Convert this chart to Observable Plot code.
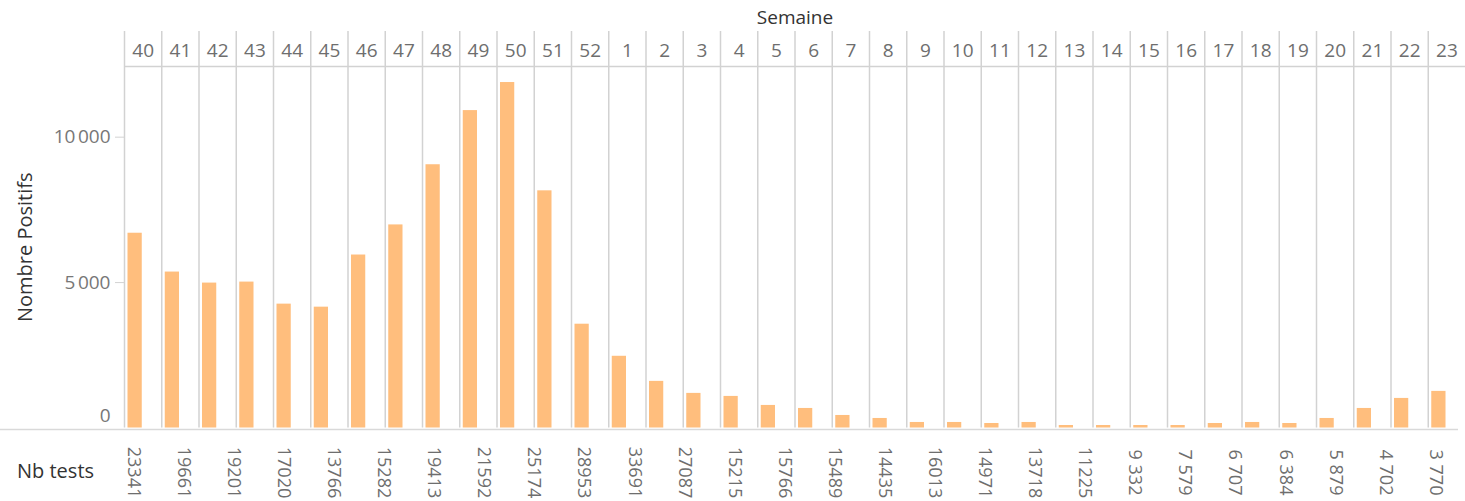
<!DOCTYPE html>
<html>
<head>
<meta charset="utf-8">
<script src="https://cdn.jsdelivr.net/npm/d3@7"></script>
<script src="https://cdn.jsdelivr.net/npm/@observablehq/plot@0.6"></script>
<style>
  html, body { margin: 0; padding: 0; background: #fff; overflow: hidden; }
  #wrap { position: relative; width: 1465px; height: 501px; overflow: hidden; font-family: "Open Sans", sans-serif; }
  #main, #tests { position: absolute; left: 0; }
  #main { top: 0; }
  #tests { top: 428px; }
  #nblabel { position: absolute; left: 17px; top: 457px; font-size: 20px; color: #333; white-space: nowrap; }
</style>
</head>
<body>
<div id="wrap">
  <div id="main"></div>
  <div id="tests"></div>
  <div id="nblabel">Nb tests</div>
</div>
<script>
// ---- data ----
const weeks = [40, 41, 42, 43, 44, 45, 46, 47, 48, 49, 50, 51, 52,
  1, 2, 3, 4, 5, 6, 7, 8, 9, 10, 11, 12, 13, 14, 15, 16, 17, 18, 19, 20, 21, 22, 23];
const positifs = [6697, 5362, 4983, 5017, 4259, 4155, 5948, 6983, 9052, 10914, 11879, 8155, 3569,
  2466, 1603, 1190, 1086, 776, 672, 431, 328, 190, 190, 155, 190, 86, 86, 86, 86, 155, 190, 155, 328, 672, 1017, 1259];
const nbTests = ["23341", "19661", "19201", "17020", "13766", "15282", "19413", "21592", "25174",
  "28953", "33691", "27087", "15215", "15766", "15489", "14435", "16013", "14971", "13718", "11225",
  "9 332", "7 579", "6 707", "6 384", "5 879", "4 702", "3 770"];
const yTickValues = [5000, 10000];
const yTickLabels = ["5\u202F000", "10\u202F000"];
const zeroLabel = ["0"];

const rows = weeks.map((w, i) => ({week: w, value: positifs[i]}));

// ---- layout ----
const W = 1465, H = 501, ML = 124, MR = 0, MT = 66, MB = 73.5;
const band = (W - ML - MR) / weeks.length;
const grid = "#d2d2d2";
const grey = "#6e6e6e";
const dark = "#333";

const main = Plot.plot({
  width: W, height: H,
  marginLeft: ML, marginRight: MR, marginTop: MT, marginBottom: MB,
  style: {fontFamily: "Open Sans, sans-serif", fontSize: "19px", background: "#fff", overflow: "visible"},
  x: {type: "band", domain: weeks, padding: 0, round: false, axis: null},
  y: {domain: [0, 12430], axis: null},
  marks: [
    Plot.ruleX(weeks, {x: d => d, dx: -band / 2, stroke: grid, strokeWidth: 1.5, insetTop: -35}),
    Plot.ruleY([12430], {stroke: grid, strokeWidth: 1.5}),
    Plot.rectY(rows, {x: "week", y: "value", fill: "#ffbe7d", insetLeft: 3.5, insetRight: 19.5}),
    Plot.ruleY([0], {stroke: "#d9d9d9", strokeWidth: 1.5, dy: 1.5, insetLeft: -ML, insetRight: 7}),
    Plot.axisY({ticks: yTickValues, tickFormat: d => yTickLabels[yTickValues.indexOf(d)],
      tickSize: 9, tickPadding: 5, stroke: grid, fill: "#777", fontSize: 19, label: null}),
    Plot.text(zeroLabel, {y: 0, text: d => d, frameAnchor: "left", dx: -14, dy: -12,
      textAnchor: "end", lineAnchor: "middle", fill: "#777", fontSize: 19}),
    Plot.text(weeks, {x: d => d, text: d => String(d), frameAnchor: "top", lineAnchor: "middle",
      dy: -16, fill: grey, fontSize: 19}),
    Plot.text(["Semaine"], {frameAnchor: "top", lineAnchor: "middle", dy: -49, fill: dark, fontSize: 19}),
    Plot.text(["Nombre Positifs"], {frameAnchor: "left", textAnchor: "middle", lineAnchor: "middle",
      dx: -99, rotate: -90, fill: dark, fontSize: 20})
  ]
});
document.getElementById("main").appendChild(main);

const tests = Plot.plot({
  width: W, height: 80,
  marginLeft: 133, marginRight: 30, marginTop: 14, marginBottom: 0,
  style: {fontFamily: "Open Sans, sans-serif", fontSize: "18px", background: "transparent", overflow: "visible"},
  x: {type: "point", domain: nbTests, padding: 0, round: false, axis: null},
  marks: [
    Plot.text(nbTests, {x: d => d, text: d => d, frameAnchor: "middle", textAnchor: "middle",
      lineAnchor: "middle", dy: -3, rotate: 90, fill: grey, fontSize: 18})
  ]
});
document.getElementById("tests").appendChild(tests);
</script>
</body>
</html>
